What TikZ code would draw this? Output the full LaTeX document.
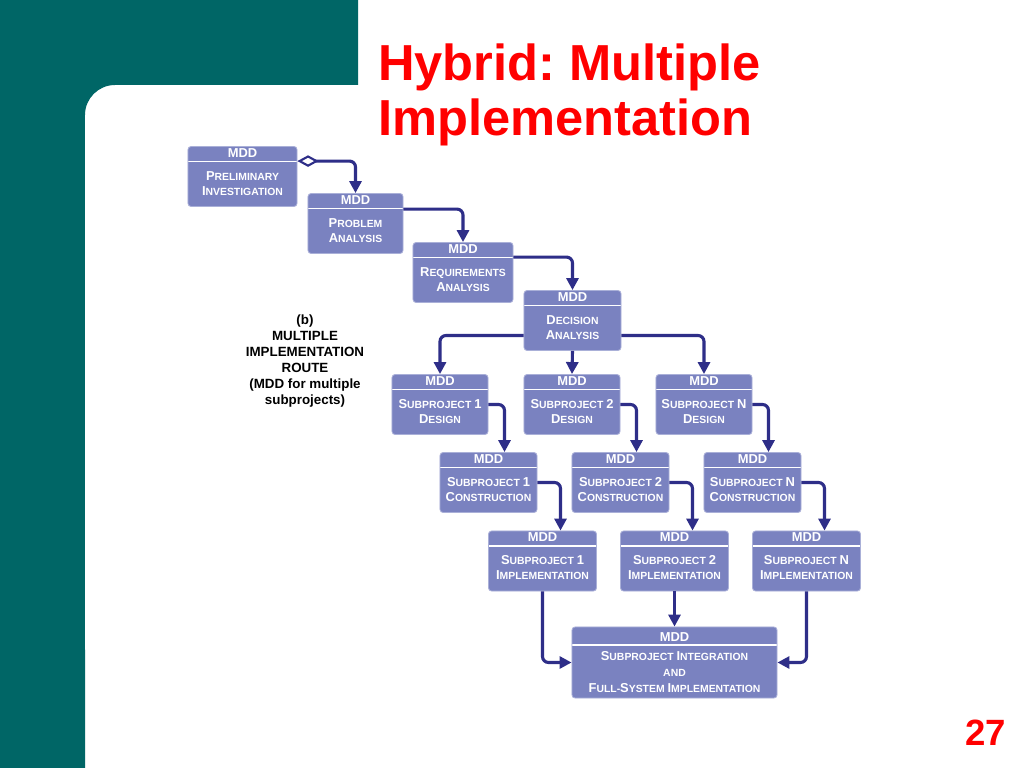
\documentclass[tikz,border=0pt]{standalone}
\usepackage{fontspec}
\setmainfont{Liberation Sans}
\usetikzlibrary{arrows.meta}
\definecolor{SlideTeal}{RGB}{0,102,102}
\definecolor{TitleRed}{RGB}{255,0,0}
\definecolor{BoxBlue}{RGB}{122,130,192}
\definecolor{BoxEdge}{RGB}{170,176,216}
\definecolor{LinkBlue}{RGB}{46,46,136}
\newcommand\ini[1]{{\fontsize{9.2}{10.7}\selectfont #1}}
\frenchspacing

\begin{document}
\begin{tikzpicture}[
  x=0.025cm, y=-0.025cm,
  every node/.style={inner sep=1pt},
  mdd/.style={rectangle, rounded corners=2.2pt, fill=BoxBlue, draw=BoxEdge,
    line width=0.6pt, minimum height=1.5cm, text=white, align=center,
    font=\fontsize{7.4}{10.7}\selectfont\bfseries,
    path picture={\draw[white, line width=1.1pt]
      ([yshift=-#1]path picture bounding box.north west) --
      ([yshift=-#1]path picture bounding box.north east);}},
  mdd/.default=0.375cm,
  phase/.style={mdd, execute at end node={\rule[-6.6pt]{0pt}{6.6pt}}},
  link/.style={draw=LinkBlue, line width=2.2pt, rounded corners=0.15cm,
    -{Triangle[length=0.3cm, width=0.3cm]}},
  slidetitle/.style={anchor=north west, inner sep=0pt, align=left, text=TitleRed,
    font=\fontsize{36}{39}\selectfont\bfseries},
  routecap/.style={align=center, font=\fontsize{9.5}{11.4}\selectfont\bfseries},
]
\def\mddhead{\ini{MDD}\\[5.7pt]}

%% ---- slide background ----
\useasboundingbox (0,0) rectangle (1024,768);
\fill[white] (0,0) rectangle (1024,768);
\fill[SlideTeal] (0,0) -- (358,0) -- (358,85) -- (115,85)
  arc[start angle=90, end angle=180, radius=0.75cm] -- (85,768) -- (0,768) -- cycle;

\node[slidetitle] (title) at (378,44) {Hybrid: Multiple\\Implementation};
\node[anchor=base east, text=TitleRed, font=\fontsize{26}{28}\selectfont\bfseries]
  (pagenum) at (1008,745) {27};

\node[routecap] (route) at (305,361)
  {(b)\\MULTIPLE\\IMPLEMENTATION\\ROUTE\\(MDD for multiple\\subprojects)};

%% ---- common phases ----
\node[phase, minimum width=2.725cm] (prelim) at (242.5,176.5)
  {\mddhead\ini{P}RELIMINARY\\\ini{I}NVESTIGATION};
\node[phase, minimum width=2.375cm] (problem) at (355.5,223.5)
  {\mddhead\ini{P}ROBLEM\\\ini{A}NALYSIS};
\node[phase, minimum width=2.5cm] (reqs) at (463,272.5)
  {\mddhead\ini{R}EQUIREMENTS\\\ini{A}NALYSIS};
\node[phase, minimum width=2.425cm] (decision) at (572.5,320.5)
  {\mddhead\ini{D}ECISION\\\ini{A}NALYSIS};

%% ---- subproject design ----
\node[phase, minimum width=2.4cm] (des1) at (440,404.5)
  {\mddhead\ini{S}UBPROJECT \ini{1}\\\ini{D}ESIGN};
\node[phase, minimum width=2.4cm] (des2) at (572,404.5)
  {\mddhead\ini{S}UBPROJECT \ini{2}\\\ini{D}ESIGN};
\node[phase, minimum width=2.4cm] (desN) at (704,404.5)
  {\mddhead\ini{S}UBPROJECT \ini{N}\\\ini{D}ESIGN};

%% ---- subproject construction ----
\node[phase, minimum width=2.425cm] (con1) at (488.5,482.5)
  {\mddhead\ini{S}UBPROJECT \ini{1}\\\ini{C}ONSTRUCTION};
\node[phase, minimum width=2.425cm] (con2) at (620.5,482.5)
  {\mddhead\ini{S}UBPROJECT \ini{2}\\\ini{C}ONSTRUCTION};
\node[phase, minimum width=2.425cm] (conN) at (752.5,482.5)
  {\mddhead\ini{S}UBPROJECT \ini{N}\\\ini{C}ONSTRUCTION};

%% ---- subproject implementation ----
\node[phase, minimum width=2.7cm] (imp1) at (542.5,561)
  {\mddhead\ini{S}UBPROJECT \ini{1}\\\ini{I}MPLEMENTATION};
\node[phase, minimum width=2.7cm] (imp2) at (674.5,561)
  {\mddhead\ini{S}UBPROJECT \ini{2}\\\ini{I}MPLEMENTATION};
\node[phase, minimum width=2.7cm] (impN) at (806.5,561)
  {\mddhead\ini{S}UBPROJECT \ini{N}\\\ini{I}MPLEMENTATION};

%% ---- integration ----
\node[mdd=0.45cm, minimum width=5.125cm, minimum height=1.775cm,
  font=\fontsize{7.4}{11.4}\selectfont\bfseries]
  (integ) at (674.5,662.5)
  {\ini{MDD}\\[2.1pt]\ini{S}UBPROJECT \ini{I}NTEGRATION\\AND\\\ini{F}ULL-\ini{S}YSTEM \ini{I}MPLEMENTATION};

%% ---- connectors ----
\draw[link, {Diamond[open, length=0.53cm, width=0.29cm, line width=1.5pt]}-{Triangle[length=0.3cm, width=0.3cm]}]
  ([yshift=-0.375cm]prelim.north east) -| (problem.north);
\draw[link] ([yshift=-0.4cm]problem.north east) -| (reqs.north);
\draw[link] ([yshift=-0.375cm]reqs.north east) -| (decision.north);

\draw[link] ([yshift=-0.375cm]decision.west) -| (des1.north);
\draw[link] (decision.south) -- (des2.north);
\draw[link] ([yshift=-0.375cm]decision.east) -| (desN.north);

\draw[link] (des1.east) -| ([xshift=0.4cm]con1.north);
\draw[link] (des2.east) -| ([xshift=0.4cm]con2.north);
\draw[link] (desN.east) -| ([xshift=0.4cm]conN.north);

\draw[link] (con1.east) -| ([xshift=0.45cm]imp1.north);
\draw[link] (con2.east) -| ([xshift=0.45cm]imp2.north);
\draw[link] (conN.east) -| ([xshift=0.45cm]impN.north);

\draw[link] (imp1.south) |- (integ.west);
\draw[link] (imp2.south) -- (integ.north);
\draw[link] (impN.south) |- (integ.east);
\end{tikzpicture}
\end{document}
